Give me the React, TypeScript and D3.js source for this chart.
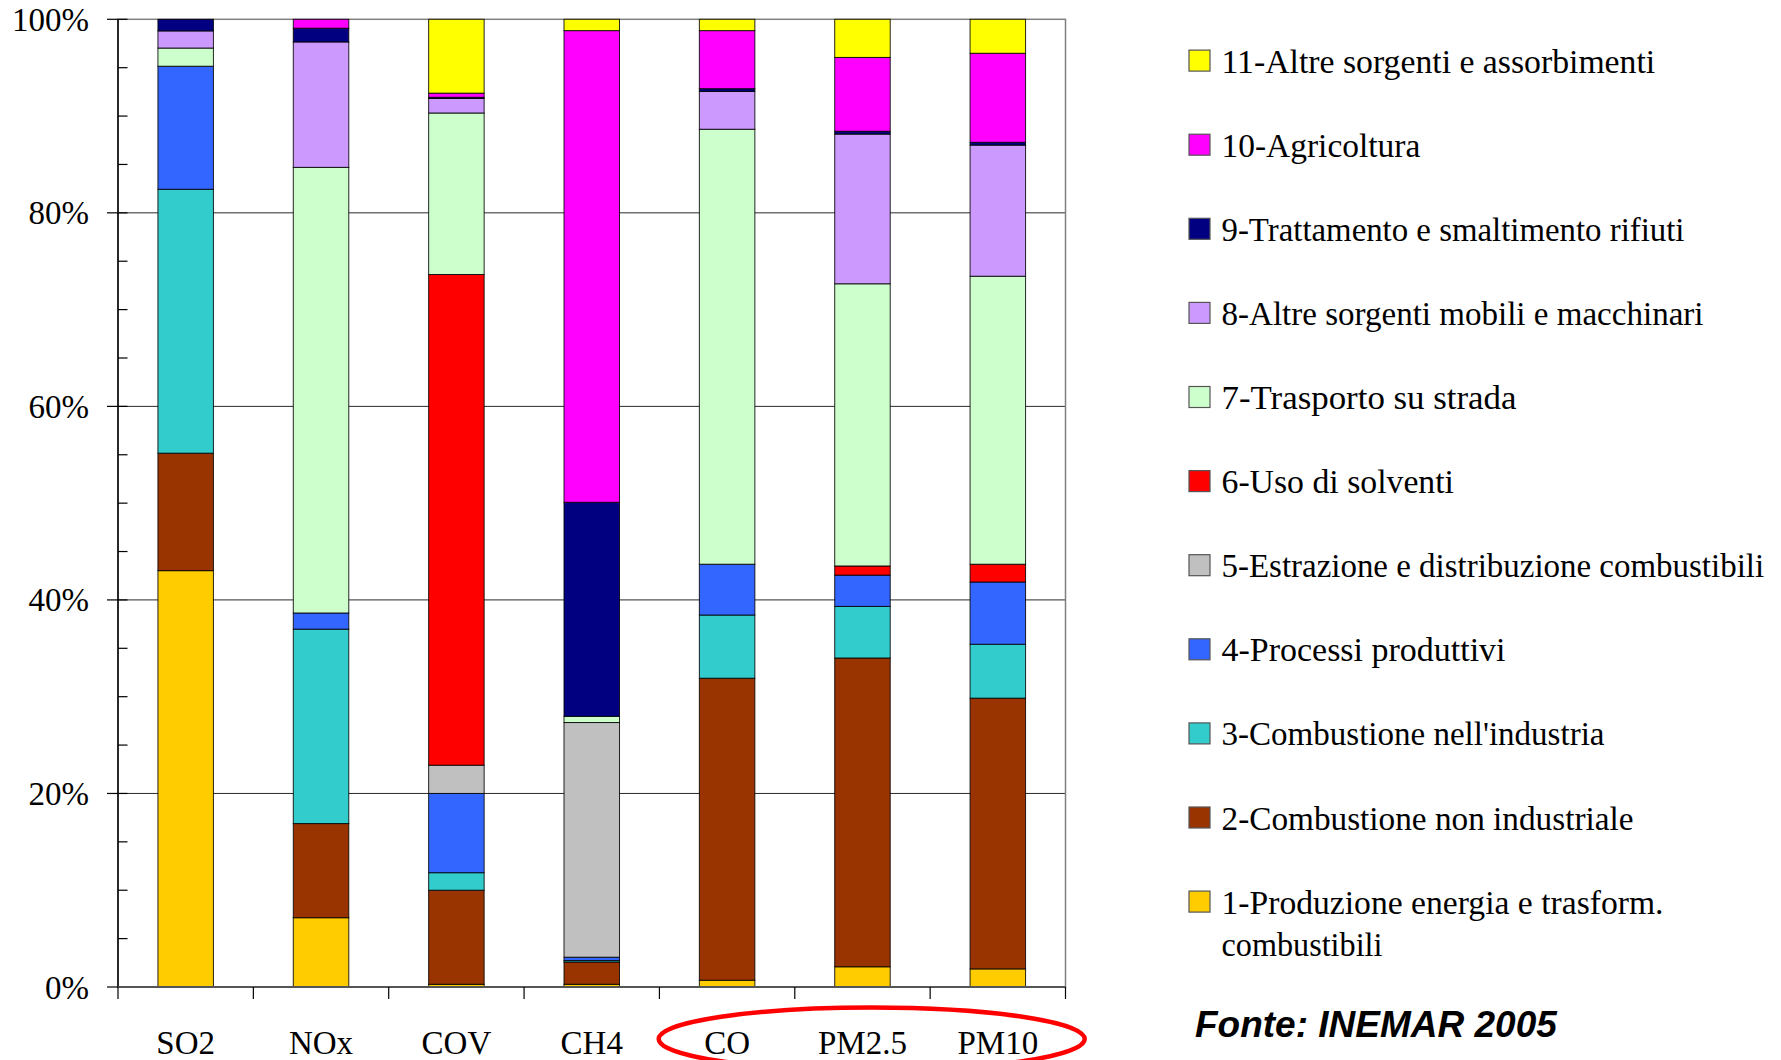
import React from "react";
import * as d3 from "d3";

const categories = ["SO2", "NOx", "COV", "CH4", "CO", "PM2.5", "PM10"];

const sourceNames = [
  "1-Produzione energia e trasform.",
  "2-Combustione non industriale",
  "3-Combustione nell'industria",
  "4-Processi produttivi",
  "5-Estrazione e distribuzione combustibili",
  "6-Uso di solventi",
  "7-Trasporto su strada",
  "8-Altre sorgenti mobili e macchinari",
  "9-Trattamento e smaltimento rifiuti",
  "10-Agricoltura",
  "11-Altre sorgenti e assorbimenti",
];

const sourceColors = [
  "#FFCC00", "#993300", "#33CCCC", "#3366FF", "#C0C0C0", "#FF0000",
  "#CCFFCC", "#CC99FF", "#000080", "#FF00FF", "#FFFF00",
];

// percentage shares per category (SO2, NOx, COV, CH4, CO, PM2.5, PM10)
const s1 = [43.02, 7.16, 0.28, 0.28, 0.7, 2.09, 1.87];
const s2 = [12.14, 9.73, 9.72, 2.3, 31.21, 31.91, 27.98];
const s3 = [27.27, 20.09, 1.81, 0.15, 6.53, 5.33, 5.57];
const s4 = [12.71, 1.67, 8.19, 0.35, 5.25, 3.23, 6.43];
const s5 = [0, 0, 2.92, 24.25, 0, 0, 0];
const s6 = [0, 0, 50.7, 0, 0, 0.95, 1.84];
const s7 = [1.88, 46.05, 16.69, 0.64, 44.95, 29.16, 29.76];
const s8 = [1.77, 12.96, 1.5, 0, 3.91, 15.47, 13.55];
const s9 = [1.2, 1.42, 0.12, 22.12, 0.28, 0.29, 0.29];
const s10 = [0, 0.92, 0.43, 48.74, 6.0, 7.63, 9.2];
const s11 = [0, 0, 7.63, 1.17, 1.17, 3.94, 3.51];

const seriesValues = [s1, s2, s3, s4, s5, s6, s7, s8, s9, s10, s11];

const yTickValues = [0, 0.2, 0.4, 0.6, 0.8, 1];
const yTickLabels = ["0%", "20%", "40%", "60%", "80%", "100%"];

const sourceLabel = "Fonte: INEMAR 2005";

// layout: rendered legend text widths (px)
const legendWidths = [442, 412, 383, 284, 542.6, 232.5, 295, 482, 463, 198.8, 433.7];
const legendSecondWidth = 161;

const W = 1781;
const H = 1060;
const left = 118;
const right = 1065.5;
const top = 19.3;
const bottom = 987;

const serif = "'Liberation Serif', 'Times New Roman', serif";

export default function App() {
  const rows = categories.map((c, i) => {
    const r: any = { cat: c };
    seriesValues.forEach((s, k) => (r["k" + k] = s[i]));
    return r;
  });
  const keys = seriesValues.map((_, k) => "k" + k);
  const stacked = d3.stack().keys(keys).offset(d3.stackOffsetExpand)(rows);

  const x = d3.scaleBand().domain(categories).range([left, right]).paddingInner(0.59).paddingOuter(0.295);
  const y = d3.scaleLinear().domain([0, 1]).range([bottom, top]);
  const step = x.step();

  const minorTicks = d3.range(0, 1.0001, 0.05).filter((v) => Math.abs(v * 5 - Math.round(v * 5)) > 1e-6);

  const legendFont = 33;
  const legendY0 = 60.6;
  const legendStep = 84.1;

  return (
    <svg width={W} height={H} style={{ position: "absolute", left: 0, top: 0, background: "#fff" }}>
      <rect x={0} y={0} width={W} height={H} fill="#fff" />
      {/* gridlines */}
      {yTickValues.filter((v) => v > 0 && v < 1).map((v) => (
        <line key={"g" + v} x1={left} x2={right} y1={y(v)} y2={y(v)} stroke="#2a2a2a" strokeWidth={1} />
      ))}
      <rect x={left} y={top} width={right - left} height={bottom - top} fill="none" stroke="#808080" strokeWidth={1.5} />

      {/* bars */}
      {stacked.map((layer, k) => (
        <g key={"l" + k} fill={sourceColors[k]}>
          {layer.map((d: any, i) => {
            const h = y(d[0]) - y(d[1]);
            if (h <= 0.01) return null;
            return (
              <rect key={i} x={x(categories[i])} y={y(d[1])} width={x.bandwidth()} height={h}
                stroke="#000" strokeWidth={1} strokeOpacity={0.85} />
            );
          })}
        </g>
      ))}

      {/* y axis */}
      <line x1={left} x2={left} y1={top} y2={bottom} stroke="#000" strokeWidth={1.5} />
      {yTickValues.map((v, i) => (
        <g key={"t" + v}>
          <line x1={107} x2={127.5} y1={y(v)} y2={y(v)} stroke="#000" strokeWidth={1.2} />
          <text x={89} y={y(v) + 11.5} textAnchor="end" fontFamily={serif} fontSize={33} fill="#000">
            {yTickLabels[i]}
          </text>
        </g>
      ))}
      {minorTicks.map((v) => (
        <line key={"m" + v} x1={left} x2={127.5} y1={y(v)} y2={y(v)} stroke="#000" strokeWidth={1.2} />
      ))}

      {/* x axis */}
      <line x1={left} x2={right} y1={bottom} y2={bottom} stroke="#555" strokeWidth={2} />
      {d3.range(categories.length + 1).map((i) => (
        <line key={"xt" + i} x1={left + i * step} x2={left + i * step} y1={bottom} y2={bottom + 12} stroke="#000" strokeWidth={1.2} />
      ))}
      {categories.map((c) => (
        <text key={"xl" + c} x={(x(c) as number) + x.bandwidth() / 2} y={1054} textAnchor="middle"
          fontFamily={serif} fontSize={33} fill="#000">
          {c}
        </text>
      ))}

      {/* red ellipse */}
      <ellipse cx={871.7} cy={1039} rx={213} ry={31.5} fill="none" stroke="#FF0000" strokeWidth={4.5} />

      {/* legend */}
      {sourceNames.map((name, k) => {
        const idx = sourceNames.length - 1 - k;
        const cy = legendY0 + k * legendStep;
        return (
          <g key={"lg" + idx}>
            <rect x={1189} y={cy - 10.5} width={21} height={21} fill={sourceColors[idx]} stroke="#555" strokeWidth={1.2} />
            <text x={1221.5} y={cy + 12} fontFamily={serif} fontSize={legendFont} fill="#000"
              textLength={legendWidths[idx]} lengthAdjust="spacingAndGlyphs">
              {sourceNames[idx]}
            </text>
            {idx === 0 && (
              <text x={1221.5} y={cy + 12 + 42} fontFamily={serif} fontSize={legendFont} fill="#000"
                textLength={legendSecondWidth} lengthAdjust="spacingAndGlyphs">
                combustibili
              </text>
            )}
          </g>
        );
      })}

      <text x={1195} y={1037} fontFamily="'Liberation Sans', Arial, sans-serif" fontWeight="bold" fontStyle="italic"
        fontSize={37} fill="#000">
        {sourceLabel}
      </text>
    </svg>
  );
}
